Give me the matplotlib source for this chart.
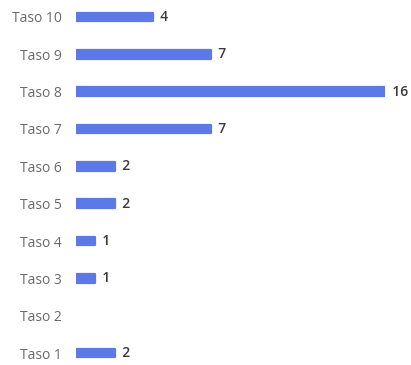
import matplotlib
matplotlib.use('Agg')
import matplotlib.pyplot as plt

categories = ['Taso 1', 'Taso 2', 'Taso 3', 'Taso 4', 'Taso 5',
              'Taso 6', 'Taso 7', 'Taso 8', 'Taso 9', 'Taso 10']
counts = [2, 0, 1, 1, 2, 2, 7, 16, 7, 4]

bar_color = '#5d79e8'

plt.rcParams['font.family'] = ['Open Sans', 'DejaVu Sans']

fig = plt.figure(figsize=(4.11, 3.65), dpi=100)
ax = fig.add_axes([76 / 411, 0, (385 - 76) / 411, 1])

ypos = list(range(len(categories)))
bars = ax.barh(ypos, counts, height=0.23, color=bar_color,
               edgecolor=bar_color, linewidth=1.6)
for b, v in zip(bars, counts):
    b.set_joinstyle('round')
    if v == 0:
        b.set_linewidth(0)

for y, v in zip(ypos, counts):
    if v > 0:
        ax.text(v, y, f'  {v}', va='center', ha='left', fontsize=10,
                fontweight='semibold', color='#3a3a3a')

ax.set_xlim(0, 16)
ax.set_ylim(-0.321, 9.455)
ax.set_yticks(ypos)
ax.set_yticklabels(categories, fontsize=10, color='#6a6a6a')
ax.tick_params(axis='y', length=0, pad=10)
ax.set_xticks([])
for s in ax.spines.values():
    s.set_visible(False)

fig.savefig('out.png', dpi=100)
